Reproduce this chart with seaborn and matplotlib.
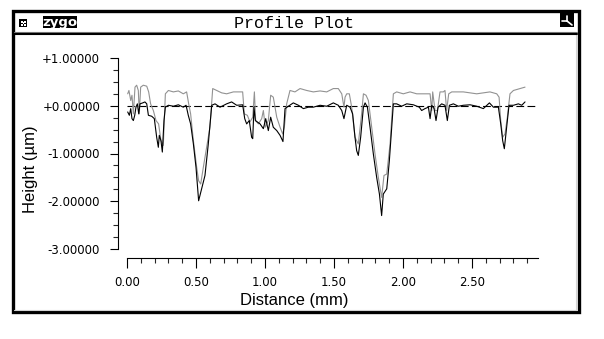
import matplotlib
matplotlib.use("Agg")
import matplotlib.pyplot as plt
import seaborn as sns
import pandas as pd
from matplotlib.patches import Rectangle
from matplotlib.lines import Line2D
from matplotlib.ticker import MultipleLocator, FuncFormatter

# ---------------- data (mm, µm) ----------------
black_x = [0.005, 0.017, 0.027, 0.036, 0.046, 0.056, 0.065, 0.075, 0.085, 0.094, 0.114, 0.130, 0.143,
           0.155, 0.179, 0.198, 0.215, 0.227, 0.234, 0.246, 0.256, 0.268, 0.278, 0.300, 0.336, 0.372,
           0.408, 0.428, 0.444, 0.461, 0.481, 0.500, 0.519, 0.541, 0.565, 0.589, 0.614, 0.638, 0.674,
           0.722, 0.758, 0.795, 0.838, 0.853, 0.867, 0.886, 0.903, 0.911, 0.920, 0.930, 0.944, 0.964,
           0.988, 1.005, 1.024, 1.041, 1.060, 1.085, 1.109, 1.130, 1.145, 1.169, 1.205, 1.242, 1.278,
           1.314, 1.350, 1.399, 1.447, 1.495, 1.531, 1.556, 1.572, 1.592, 1.616, 1.635, 1.652, 1.664,
           1.676, 1.693, 1.713, 1.725, 1.742, 1.761, 1.785, 1.809, 1.829, 1.845, 1.857, 1.882, 1.901,
           1.918, 1.930, 1.954, 1.990, 2.027, 2.075, 2.118, 2.135, 2.159, 2.184, 2.196, 2.208, 2.225,
           2.239, 2.254, 2.280, 2.304, 2.321, 2.336, 2.365, 2.401, 2.437, 2.486, 2.534, 2.582, 2.626,
           2.655, 2.691, 2.708, 2.722, 2.734, 2.751, 2.768, 2.800, 2.836, 2.860, 2.884]
black_y = [-0.13, -0.20, -0.06, -0.27, -0.31, -0.20, -0.03, 0.04, -0.17, 0.04, 0.06, 0.08, 0.04,
           -0.20, -0.22, -0.27, -0.66, -0.87, -0.62, -0.73, -0.97, -0.31, -0.03, 0.01, -0.01, 0.02,
           -0.03, 0.01, -0.20, -0.38, -0.80, -1.29, -1.99, -1.74, -1.46, -0.80, 0.01, 0.04, -0.03,
           0.04, 0.08, 0.01, 0.02, -0.27, -0.38, -0.31, -0.66, -0.69, -0.03, -0.31, -0.34, -0.38,
           -0.48, -0.27, -0.52, -0.24, -0.45, -0.52, -0.62, -0.75, -0.06, -0.01, 0.06, 0.01, -0.06,
           -0.03, -0.03, 0.01, -0.01, 0.06, 0.01, -0.10, -0.27, 0.01, -0.03, -0.17, -0.66, -0.94,
           -1.04, -0.66, -0.03, 0.06, -0.03, -0.45, -1.01, -1.50, -1.85, -2.30, -1.85, -1.74, -1.15,
           -0.45, 0.04, 0.04, -0.01, 0.04, 0.02, -0.03, -0.10, -0.06, -0.03, -0.27, 0.01, -0.06,
           -0.31, -0.03, 0.04, 0.01, -0.31, 0.01, 0.04, -0.01, 0.01, 0.02, -0.01, -0.06, 0.06,
           -0.03, -0.03, -0.38, -0.73, -0.90, -0.45, 0.01, 0.01, 0.04, 0.01, 0.08]

gray_x = [0.005, 0.014, 0.027, 0.036, 0.046, 0.058, 0.070, 0.082, 0.089, 0.099, 0.118, 0.143, 0.157,
          0.171, 0.191, 0.210, 0.229, 0.246, 0.263, 0.278, 0.300, 0.336, 0.372, 0.408, 0.432, 0.447,
          0.461, 0.481, 0.505, 0.519, 0.534, 0.553, 0.577, 0.601, 0.621, 0.650, 0.686, 0.722, 0.771,
          0.838, 0.850, 0.872, 0.891, 0.911, 0.923, 0.932, 0.952, 0.976, 0.988, 1.002, 1.024, 1.041,
          1.060, 1.085, 1.109, 1.128, 1.140, 1.157, 1.181, 1.217, 1.254, 1.302, 1.350, 1.399, 1.447,
          1.495, 1.531, 1.556, 1.572, 1.580, 1.592, 1.611, 1.628, 1.652, 1.676, 1.700, 1.713, 1.732,
          1.749, 1.773, 1.797, 1.821, 1.845, 1.862, 1.882, 1.906, 1.930, 1.954, 2.002, 2.051, 2.099,
          2.147, 2.196, 2.208, 2.215, 2.232, 2.249, 2.268, 2.292, 2.304, 2.316, 2.331, 2.353, 2.437,
          2.534, 2.630, 2.679, 2.696, 2.708, 2.722, 2.739, 2.756, 2.775, 2.800, 2.848, 2.884]
gray_y = [0.25, 0.32, 0.11, 0.22, -0.17, 0.39, 0.43, 0.32, -0.17, 0.39, 0.43, 0.41, 0.29,
          0.04, -0.10, -0.31, -0.38, -0.73, -0.83, 0.25, 0.32, 0.29, 0.31, 0.25, 0.29, 0.04,
          -0.17, -0.73, -1.29, -1.57, -1.64, -1.29, -0.87, -0.45, 0.36, 0.32, 0.27, 0.25, 0.29,
          0.29, -0.17, -0.20, -0.34, -0.24, 0.29, -0.31, -0.38, -0.27, -0.10, -0.45, -0.31, 0.22,
          0.18, -0.24, -0.45, -0.59, -0.45, 0.04, 0.32, 0.29, 0.36, 0.32, 0.29, 0.31, 0.29,
          0.36, 0.36, 0.25, -0.03, 0.18, 0.25, 0.25, -0.03, -0.66, -0.80, -0.17, 0.25, 0.22,
          0.11, -0.45, -1.01, -1.50, -1.92, -1.46, -1.43, -0.80, 0.25, 0.29, 0.25, 0.29, 0.25,
          0.25, 0.25, -0.10, 0.29, -0.10, -0.10, 0.29, 0.29, 0.32, -0.10, 0.25, 0.29, 0.29,
          0.25, 0.29, 0.25, 0.18, -0.31, -0.66, -0.59, -0.24, 0.25, 0.32, 0.36, 0.39]

y_ticks = [1.0, 0.0, -1.0, -2.0, -3.0]
x_ticks = [0.0, 0.5, 1.0, 1.5, 2.0, 2.5]
title_text = "Profile Plot"
x_label = "Distance (mm)"
y_label = "Height (µm)"

# ---------------- figure ----------------
W, H = 604, 339
sns.set_style("white")
plt.rcParams["font.family"] = ["DejaVu Sans"]

fig = plt.figure(figsize=(W / 100, H / 100), dpi=100)
fig.patch.set_facecolor("white")


def fx(x):
    return x / W


def fy(y):
    return 1 - y / H


# plot area in pixels
L, R, T, B = 127, 538, 58, 249
ax = fig.add_axes([fx(L), fy(B), (R - L) / W, (B - T) / H])
ax.set_facecolor("white")

ax.axhline(0, color="black", lw=0.8, ls=(0, (7, 3)), zorder=1)
df_g = pd.DataFrame({"x": gray_x, "y": gray_y})
df_b = pd.DataFrame({"x": black_x, "y": black_y})
sns.lineplot(data=df_g, x="x", y="y", ax=ax, color="#929292", lw=0.8, estimator=None, zorder=2)
sns.lineplot(data=df_b, x="x", y="y", ax=ax, color="black", lw=0.8, estimator=None, zorder=3)

ax.set_xlim(0, 2.978)
ax.set_ylim(-3, 1)
ax.set_xlabel("")
ax.set_ylabel("")

for s in ["top", "right"]:
    ax.spines[s].set_visible(False)
for s in ["left", "bottom"]:
    ax.spines[s].set_visible(True)
    ax.spines[s].set_color("black")
    ax.spines[s].set_linewidth(0.8)
    ax.spines[s].set_position(("outward", 6.5))

ax.set_yticks(y_ticks)
ax.yaxis.set_minor_locator(MultipleLocator(0.25))
ax.set_xticks(x_ticks)
ax.xaxis.set_minor_locator(MultipleLocator(0.1))
ax.yaxis.set_major_formatter(FuncFormatter(lambda v, p: f"{v:+.5f}" if v != 0 else "+0.00000"))
ax.xaxis.set_major_formatter(FuncFormatter(lambda v, p: f"{v:.2f}"))

ax.tick_params(axis="y", which="major", direction="out", length=5.8, width=0.8, pad=7,
               labelsize=8.5, colors="black", left=True)
ax.tick_params(axis="y", which="minor", direction="out", length=3.6, width=0.8, left=True)
ax.tick_params(axis="x", which="major", direction="out", length=7.2, width=0.8, pad=6,
               labelsize=8.5, colors="black", bottom=True)
ax.tick_params(axis="x", which="minor", direction="out", length=3.6, width=0.8, bottom=True)

# axis labels (placed as in the reference)
fig.text(fx(294), fy(300), x_label, ha="center", va="center", fontsize=12,
         family="Liberation Sans", color="black")
fig.text(fx(31), fy(169), y_label, ha="center", va="center", fontsize=12, rotation=90,
         family="Liberation Sans", color="black")

# ---------------- window frame ----------------
def rect(x0, y0, x1, y1, **kw):
    r = Rectangle((fx(x0), fy(y1)), fx(x1) - fx(x0), fy(y0) - fy(y1),
                  transform=fig.transFigure, **kw)
    fig.add_artist(r)


def line(x0, y0, x1, y1, **kw):
    fig.add_artist(Line2D([fx(x0), fx(x1)], [fy(y0), fy(y1)], transform=fig.transFigure, **kw))


# inner light edges
line(14, 310, 577, 310, color="#d4d4d4", lw=0.8)
line(576, 33, 576, 310, color="#d4d4d4", lw=0.8)
# outer thick border
rect(12.5, 10.5, 578.5, 312, fill=False, edgecolor="black", lw=2.4)
# title separator
line(14, 32, 577, 32, color="#7a7a7a", lw=0.8)
line(14, 33.8, 577, 33.8, color="black", lw=1.5)

# title
fig.text(fx(294), fy(23), title_text, ha="center", va="center", fontsize=12,
         family="Liberation Mono", color="black")

# left icon
rect(19, 19, 27, 27, facecolor="black", edgecolor="none")
for (cx, cy) in [(21, 21), (24, 21), (22.5, 22.5), (21, 24), (24, 24)]:
    rect(cx, cy, cx + 1.5, cy + 1.5, facecolor="white", edgecolor="none")

# zygo label
rect(43, 16, 77, 28, facecolor="black", edgecolor="none")
fig.text(fx(60), fy(22.5), "zygo", ha="center", va="center", fontsize=9.5,
         weight="bold", color="white", family="DejaVu Sans")

# right icon
rect(560, 13, 574, 27, facecolor="black", edgecolor="none")
line(567, 16, 567, 21, color="white", lw=1.2)
line(562, 21, 567, 21, color="white", lw=1.2)
line(567, 21, 572, 25, color="white", lw=1.2)

fig.savefig("out.png", dpi=100, facecolor="white")
